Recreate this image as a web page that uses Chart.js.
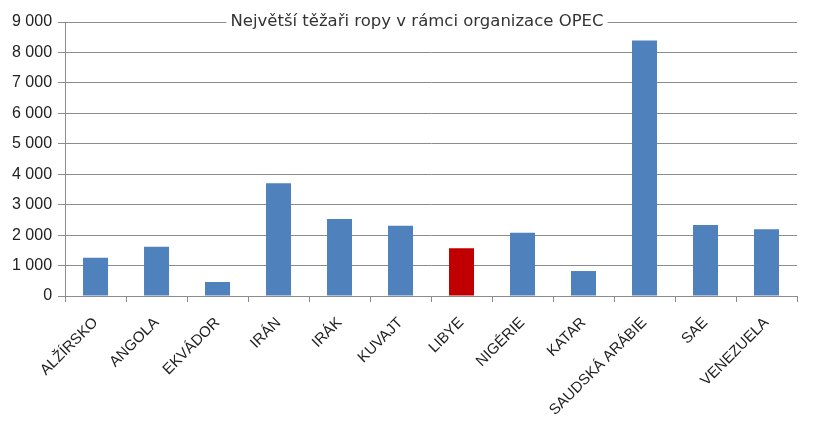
<!DOCTYPE html>
<html lang="cs">
<head>
<meta charset="utf-8">
<script src="https://cdn.jsdelivr.net/npm/chart.js@4/dist/chart.umd.min.js"></script>
<style>
  html, body { margin: 0; padding: 0; background: #fff; }
  #wrap { width: 817px; height: 424px; }
</style>
</head>
<body>
<div id="wrap"><canvas id="chart"></canvas></div>
<script>
const countries = ["ALŽÍRSKO", "ANGOLA", "EKVÁDOR", "IRÁN", "IRÁK", "KUVAJT", "LIBYE",
                   "NIGÉRIE", "KATAR", "SAUDSKÁ ARÁBIE", "SAE", "VENEZUELA"];
const production = [1260, 1620, 460, 3700, 2530, 2310, 1570, 2080, 820, 8390, 2330, 2190];
const highlight = "LIBYE";
const chartTitle = "Největší těžaři ropy v rámci organizace OPEC";

const BLUE = "#4F81BD";
const RED  = "#C00000";
const GRID = "#8C8C8C";

// thousands with a space, like the Czech Excel output
const fmtNum = v => String(v).replace(/\B(?=(\d{3})+(?!\d))/g, " ");

// title sits on the top gridline, with white behind it
const inlineTitle = {
  id: "inlineTitle",
  afterDraw(chart) {
    const { ctx } = chart;
    const y = chart.scales.y.getPixelForValue(9000);
    const x = 417;
    ctx.save();
    ctx.font = "16.5px 'DejaVu Sans'";
    const w = ctx.measureText(chartTitle).width;
    ctx.fillStyle = "#fff";
    ctx.fillRect(x - w / 2 - 4, y - 10, w + 8, 20);
    ctx.fillStyle = "#333";
    ctx.textAlign = "center";
    ctx.textBaseline = "middle";
    ctx.fillText(chartTitle, x, y);
    ctx.restore();
  },
};

new Chart(document.getElementById("chart"), {
  type: "bar",
  data: {
    labels: countries,
    datasets: [{
      data: production,
      backgroundColor: countries.map(c => c === highlight ? RED : BLUE),
      barPercentage: 0.41,
      categoryPercentage: 1,
    }],
  },
  plugins: [inlineTitle],
  options: {
    responsive: true,
    maintainAspectRatio: false,
    animation: false,
    layout: { padding: { top: 22, right: 20, left: 6, bottom: 0 } },
    plugins: { legend: { display: false }, tooltip: { enabled: false } },
    scales: {
      x: {
        afterFit: scale => { scale.height = 128; },
        grid: { drawOnChartArea: false, color: GRID, tickLength: 6 },
        border: { color: GRID },
        ticks: {
          color: "#222",
          padding: 12,
          minRotation: 45, maxRotation: 45,
          font: { family: "'Liberation Sans'", size: 15 },
        },
      },
      y: {
        min: 0, max: 9000,
        grid: { color: GRID, tickLength: 7 },
        border: { color: GRID },
        ticks: {
          stepSize: 1000,
          color: "#222",
          padding: 6,
          font: { family: "'Liberation Sans'", size: 16 },
          callback: v => fmtNum(v),
        },
      },
    },
  },
});
</script>
</body>
</html>
